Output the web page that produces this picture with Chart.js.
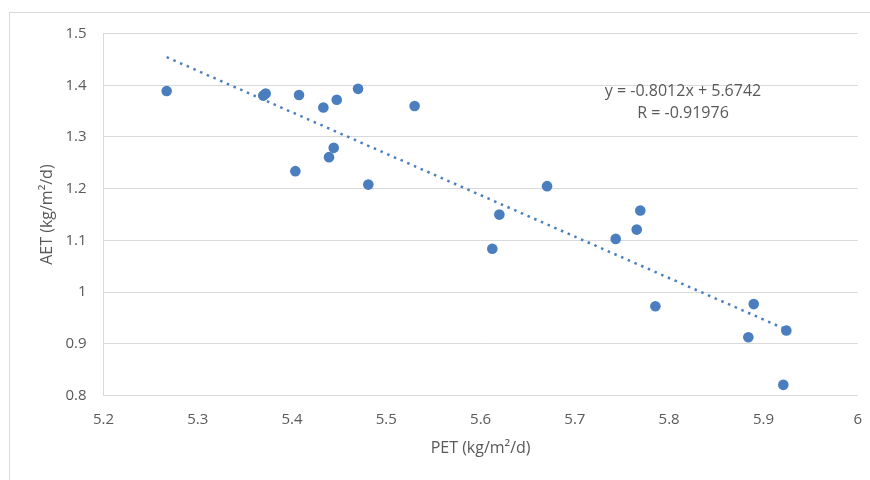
<!DOCTYPE html>
<html>
<head>
<meta charset="utf-8">
<script src="https://cdn.jsdelivr.net/npm/chart.js@4.4.1/dist/chart.umd.min.js"></script>
<style>
    html, body {
        margin: 0;
        padding: 0;
        background: #ffffff;
    }
    #wrap {
        position: relative;
        width: 870px;
        height: 480px;
    }
    #frame {
        position: absolute;
        left: 9px;
        top: 12px;
        right: -2px;
        bottom: -2px;
        border: 1px solid #d9d9d9;
    }
    #chart {
        position: absolute;
        left: 0;
        top: 0;
    }
</style>
</head>
<body>
<div id="wrap">
    <div id="frame"></div>
    <canvas id="chart" width="870" height="480"></canvas>
</div>

<script>
// ==========================
// DATA
// ==========================

const petValues = [
    5.267, 5.3695, 5.372, 5.4074, 5.4332, 5.4474, 5.470, 5.530,
    5.4035, 5.4442, 5.4392, 5.4809, 5.6705, 5.6199, 5.7694, 5.7656,
    5.7433, 5.6124, 5.7854, 5.8897, 5.884, 5.9243, 5.9211
];

const aetValues = [
    1.389, 1.380, 1.384, 1.381, 1.357, 1.372, 1.393, 1.360,
    1.234, 1.279, 1.261, 1.208, 1.205, 1.150, 1.158, 1.121,
    1.103, 1.084, 0.973, 0.977, 0.913, 0.926, 0.821
];

// trendline end points (y = -0.8012x + 5.6742)
const trendX = [5.267, 5.9243];
const trendY = [1.4543, 0.9278];

const equationLines = ["y = -0.8012x + 5.6742", "R = -0.91976"];

const xTickLabels = ["5.2", "5.3", "5.4", "5.5", "5.6", "5.7", "5.8", "5.9", "6"];
const yTickLabels = ["0.8", "0.9", "1", "1.1", "1.2", "1.3", "1.4", "1.5"];

const xTitle = "PET (kg/m\u00B2/d)";
const yTitle = "AET (kg/m\u00B2/d)";

const blue = "#4a7ebf";
const textGrey = "#595959";
const gridGrey = "#d9d9d9";
const fontFamily = "'Open Sans', sans-serif";


// ==========================
// EQUATION LABEL
// ==========================

const equationPlugin = {
    id: "equationLabel",
    afterDatasetsDraw(chart) {
        const c = chart.ctx;
        const x = chart.scales.x.getPixelForValue(5.8147);
        const y = chart.scales.y.getPixelForValue(1.3875);
        c.save();
        c.fillStyle = textGrey;
        c.font = "16px " + fontFamily;
        c.textAlign = "center";
        c.textBaseline = "middle";
        equationLines.forEach((line, i) => {
            c.fillText(line, x, y + i * 22);
        });
        c.restore();
    }
};


// ==========================
// CHART
// ==========================

const ctx = document.getElementById("chart").getContext("2d");

new Chart(ctx, {
    type: "scatter",
    data: {
        datasets: [
            {
                type: "line",
                data: trendX.map((x, i) => ({ x: x, y: trendY[i] })),
                borderColor: blue,
                borderWidth: 2.5,
                borderDash: [2.5, 4.8],
                borderCapStyle: "butt",
                pointRadius: 0,
                fill: false,
                tension: 0
            },
            {
                data: petValues.map((x, i) => ({ x: x, y: aetValues[i] })),
                backgroundColor: blue,
                borderColor: blue,
                borderWidth: 0,
                pointRadius: 5.3,
                pointHoverRadius: 5.3
            }
        ]
    },
    options: {
        responsive: false,
        animation: false,
        events: [],
        layout: {
            padding: { left: 0, top: 33.5, right: 12.3, bottom: 0 }
        },
        plugins: {
            legend: { display: false },
            tooltip: { enabled: false }
        },
        scales: {
            x: {
                type: "linear",
                min: 5.2,
                max: 6,
                afterFit(scale) {
                    scale.height = 84.3;
                    scale.paddingLeft = 0;
                    scale.paddingRight = 0;
                },
                afterBuildTicks(scale) {
                    scale.ticks = xTickLabels.map(t => ({ value: Number(t) }));
                },
                grid: {
                    display: false,
                    drawTicks: false
                },
                border: {
                    display: true,
                    color: gridGrey,
                    width: 1
                },
                ticks: {
                    color: textGrey,
                    font: { family: fontFamily, size: 15 },
                    padding: 15,
                    maxRotation: 0,
                    autoSkip: false,
                    callback: (v, i) => xTickLabels[i]
                },
                title: {
                    display: true,
                    text: xTitle,
                    color: textGrey,
                    font: { family: fontFamily, size: 16 },
                    padding: { top: 0, bottom: 22 }
                }
            },
            y: {
                type: "linear",
                min: 0.8,
                max: 1.5,
                afterFit(scale) {
                    scale.width = 103.5;
                    scale.paddingTop = 0;
                    scale.paddingBottom = 0;
                },
                afterBuildTicks(scale) {
                    scale.ticks = yTickLabels.map(t => ({ value: Number(t) }));
                },
                grid: {
                    color: gridGrey,
                    lineWidth: 1,
                    drawTicks: false
                },
                border: {
                    display: true,
                    color: gridGrey,
                    width: 1
                },
                ticks: {
                    color: textGrey,
                    font: { family: fontFamily, size: 15 },
                    padding: 17,
                    autoSkip: false,
                    callback: (v, i) => yTickLabels[i]
                },
                title: {
                    display: true,
                    text: yTitle,
                    color: textGrey,
                    font: { family: fontFamily, size: 16 },
                    padding: { top: 38, bottom: 0 }
                }
            }
        }
    },
    plugins: [equationPlugin]
});
</script>
</body>
</html>
